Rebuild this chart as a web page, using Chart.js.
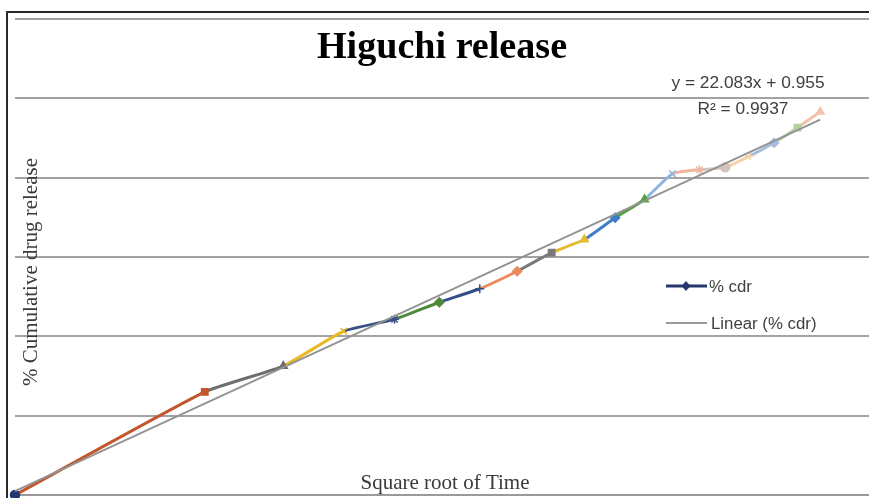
<!DOCTYPE html>
<html>
<head>
<meta charset="utf-8">
<script src="https://cdn.jsdelivr.net/npm/chart.js@4.4.1/dist/chart.umd.min.js"></script>
<style>
html,body{margin:0;padding:0;background:#ffffff;}
#wrap{position:relative;width:869px;height:498px;overflow:hidden;background:#fff;}
canvas{position:absolute;left:0;top:0;}
#frame{position:absolute;left:6px;top:11px;width:900px;height:600px;border-left:2px solid #2b2b2b;border-top:2px solid #2b2b2b;pointer-events:none;}
</style>
</head>
<body>
<div id="wrap"><canvas id="c" width="875" height="501"></canvas><div id="frame"></div></div>
<script>
// ---- data ----
const sqrtTime = [0, 1, 1.414, 1.732, 2, 2.236, 2.449, 2.646, 2.828, 3, 3.162, 3.317, 3.464, 3.606, 3.742, 3.873, 4, 4.123, 4.243];
const cdr      = [0, 26.0, 32.5, 41.3, 44.3, 48.6, 52.0, 56.4, 61.1, 64.4, 69.9, 74.5, 81.0, 82.0, 82.6, 85.5, 88.8, 92.6, 96.6];
const pointColors = ['#24386e','#c2562c','#6e6e6e','#e9b823','#3d4f88','#4f8a3b','#33508a','#e88c5c','#7a7a7a','#e3bb2e',
                     '#3f7dc8','#53a140','#8bb5df','#f2b49c','#d3c2bd','#f4d3a6','#a8bcdf','#b7cf9f','#f3c2ad'];
const pointShapes = ['circle','rect','triangle','crossRot','star','rectRot','cross','rectRot','rect','triangle',
                     'rectRot','triangle','crossRot','star','circle','cross','rectRot','rect','triangle'];
const trendSlope = 22.083;
const trendIntercept = 0.955;
const yMin = 0, yMax = 120, yStep = 20;
const xMin = 0, xMax = 4.5;
const titleText = 'Higuchi release';
const xTitle = 'Square root of Time';
const yTitle = '% Cumulative drug release';
const eqLine1 = 'y = 22.083x + 0.955';
const eqLine2 = 'R² = 0.9937';
const seriesName = '% cdr';
const trendName = 'Linear (% cdr)';

const seriesData = sqrtTime.map((x, i) => ({x: x, y: cdr[i]}));
const xLast = sqrtTime[sqrtTime.length - 1];
const trendData = [
  {x: sqrtTime[0], y: trendSlope * sqrtTime[0] + trendIntercept},
  {x: xLast, y: trendSlope * xLast + trendIntercept}
];

function drawText(ctx, txt, x, y, font, color, align, sx, rot) {
  ctx.save();
  ctx.translate(x, y);
  if (rot) ctx.rotate(rot);
  ctx.scale(sx || 1, 1);
  ctx.font = font;
  ctx.fillStyle = color;
  ctx.textAlign = align || 'left';
  ctx.textBaseline = 'alphabetic';
  ctx.fillText(txt, 0, 0);
  ctx.restore();
}

const textPlugin = {
  id: 'overlayTexts',
  afterDraw(chart) {
    const ctx = chart.ctx;
    drawText(ctx, titleText, 442, 58, 'bold 37px "Liberation Serif", "Times New Roman", serif', '#000000', 'center', 1.03);
    drawText(ctx, eqLine1, 748, 88, '16.5px "Liberation Sans", Arial, sans-serif', '#404040', 'center', 1.05);
    drawText(ctx, eqLine2, 743, 114, '16.5px "Liberation Sans", Arial, sans-serif', '#404040', 'center', 1.05);
    drawText(ctx, xTitle, 445, 489, '21px "Liberation Serif", "Times New Roman", serif', '#3a3a3a', 'center', 1);
    drawText(ctx, yTitle, 37, 272, '21px "Liberation Serif", "Times New Roman", serif', '#3a3a3a', 'center', 1, -Math.PI / 2);
    ctx.save();
    ctx.lineCap = 'butt';
    ctx.strokeStyle = '#24386e';
    ctx.lineWidth = 3;
    ctx.beginPath(); ctx.moveTo(666, 286); ctx.lineTo(707, 286); ctx.stroke();
    ctx.fillStyle = '#24386e';
    ctx.beginPath(); ctx.moveTo(686, 281); ctx.lineTo(690.5, 286); ctx.lineTo(686, 291); ctx.lineTo(681.5, 286); ctx.closePath(); ctx.fill();
    ctx.strokeStyle = '#9a9a9a';
    ctx.lineWidth = 2;
    ctx.beginPath(); ctx.moveTo(666, 323); ctx.lineTo(707, 323); ctx.stroke();
    ctx.restore();
    drawText(ctx, seriesName, 709, 292, '16px "Liberation Sans", Arial, sans-serif', '#404040', 'left', 1.05);
    drawText(ctx, trendName, 711, 329, '16px "Liberation Sans", Arial, sans-serif', '#404040', 'left', 1.05);
  }
};

new Chart(document.getElementById('c'), {
  type: 'line',
  data: {
    datasets: [
      {
        label: trendName,
        data: trendData,
        borderColor: '#939393',
        borderWidth: 2,
        pointRadius: 0,
        fill: false,
        tension: 0,
        order: 0,
        clip: false
      },
      {
        label: seriesName,
        data: seriesData,
        borderWidth: 3,
        borderColor: '#24386e',
        segment: { borderColor: c => pointColors[c.p1DataIndex] },
        pointBackgroundColor: pointColors,
        pointBorderColor: pointColors,
        pointBorderWidth: 1.5,
        pointStyle: pointShapes,
        pointRadius: 4.5,
        fill: false,
        tension: 0.15,
        order: 1,
        clip: false
      }
    ]
  },
  options: {
    responsive: false,
    animation: false,
    devicePixelRatio: 1,
    layout: { padding: { left: 15, top: 19, right: 0, bottom: 0 } },
    plugins: { legend: { display: false }, title: { display: false }, tooltip: { enabled: false } },
    scales: {
      x: {
        type: 'linear', min: xMin, max: xMax,
        grid: { display: false, drawTicks: false },
        ticks: { display: false },
        border: { display: true, color: '#9a9a9a', width: 2 }
      },
      y: {
        min: yMin, max: yMax,
        ticks: { display: false, stepSize: yStep },
        grid: { color: '#a2a2a2', lineWidth: 2, drawTicks: false },
        border: { display: false }
      }
    }
  },
  plugins: [textPlugin]
});
</script>
</body>
</html>
